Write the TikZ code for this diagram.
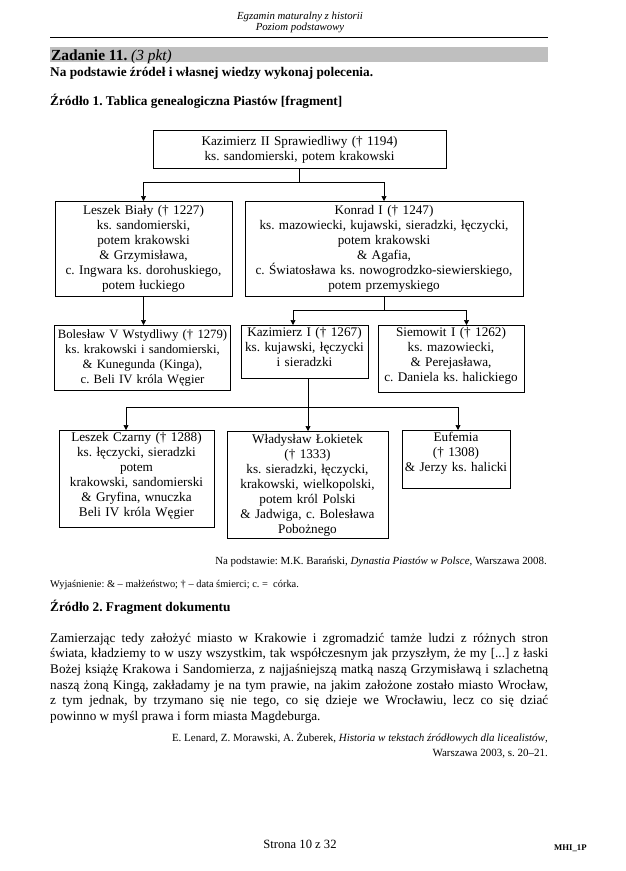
\documentclass[tikz,border=0pt]{standalone}
\usepackage{fontspec}
\setmainfont{Liberation Serif}
\usetikzlibrary{positioning,calc,arrows.meta}
\definecolor{bargray}{gray}{0.75}
\newcommand{\boxpad}[1]{\rule[-#1]{0pt}{#1}}

\tikzset{
  gen/.style={draw, line width=0.7pt, align=center, anchor=north, inner xsep=1pt, inner ysep=2pt,
    font=\fontsize{13.2}{15}\selectfont, execute at begin node={\hyphenpenalty=10000\relax}},
  arr/.style={line width=0.7pt, -{Triangle[length=5pt,width=5pt]}},
  link/.style={line width=0.7pt},
  txt/.style={inner sep=0pt},
}

\begin{document}
\frenchspacing
\begin{tikzpicture}[x=1pt,y=-1pt]
\useasboundingbox (0,0) rectangle (625,871);
\fill[white] (0,0) rectangle (625,871);

% page head
\node[txt, anchor=base, font=\fontsize{10.8}{12}\selectfont\itshape] (head1) at (300,19) {Egzamin maturalny z historii};
\node[txt, anchor=base, font=\fontsize{10.8}{12}\selectfont\itshape] (head2) at (300,30) {Poziom podstawowy};
\draw[line width=0.8pt] (50,37) -- (548,37);

% task title
\fill[bargray] (50,47) rectangle (548,62);
\node[txt, anchor=base west, font=\fontsize{15.4}{17}\selectfont] (task) at (51,60) {\textbf{Zadanie 11.} \textit{(3 pkt)}};
\node[txt, anchor=base west, font=\fontsize{13.3}{15}\selectfont\bfseries] (cmd) at (50,76) {Na podstawie źródeł i własnej wiedzy wykonaj polecenia.};
\node[txt, anchor=base west, font=\fontsize{13.3}{15}\selectfont\bfseries] (src1) at (50,105) {Źródło 1. Tablica genealogiczna Piastów [fragment]};

% genealogy boxes
\node[gen, text width=291pt, minimum height=38pt] (top) at (299.5,130)
  {Kazimierz II Sprawiedliwy († 1194)\\ks. sandomierski, potem krakowski};

\node[gen, text width=175pt, minimum height=95pt] (leszekB) at (143.5,201)
  {Leszek Biały († 1227)\\ks. sandomierski,\\potem krakowski\\\& Grzymisława,\\c. Ingwara ks. dorohuskiego,\\potem łuckiego};
\node[gen, text width=276pt, minimum height=95pt] (konrad) at (384,201)
  {Konrad I († 1247)\\ks. mazowiecki, kujawski, sieradzki, łęczycki,\\potem krakowski\\\& Agafia,\\c. Światosława ks. nowogrodzko-siewierskiego,\\potem przemyskiego};

\node[gen, text width=176pt, inner xsep=0pt, minimum height=65pt, font=\fontsize{12.7}{15}\selectfont] (boleslaw) at (142.5,325)
  {Bolesław V Wstydliwy († 1279)\\ks. krakowski i sandomierski,\\\& Kunegunda (Kinga),\\c. Beli IV króla Węgier};
\node[gen, text width=125pt, minimum height=53pt] (kazimierz) at (304.5,325)
  {Kazimierz I († 1267)\\ks. kujawski, łęczycki\\i sieradzki\boxpad{9pt}};
\node[gen, text width=144pt, minimum height=67pt] (siemowit) at (451,325)
  {Siemowit I († 1262)\\ks. mazowiecki,\\\& Perejasława,\\c. Daniela ks. halickiego\boxpad{8pt}};

\node[gen, text width=153pt, minimum height=96pt] (leszekC) at (136.5,430)
  {Leszek Czarny († 1288)\\ks. łęczycki, sieradzki\\potem\\krakowski, sandomierski\\\& Gryfina, wnuczka\\Beli IV króla Węgier\boxpad{9pt}};
\node[gen, text width=159pt, minimum height=107pt] (lokietek) at (307.5,431)
  {Władysław Łokietek\\(† 1333)\\ks. sieradzki, łęczycki,\\krakowski, wielkopolski,\\potem król Polski\\\& Jadwiga, c. Bolesława\\Pobożnego};
\node[gen, text width=106pt, minimum height=58pt] (eufemia) at (456,430)
  {Eufemia\\(† 1308)\\\& Jerzy ks. halicki\boxpad{15pt}};

% connectors
\coordinate (f1) at ($(top.south)+(0,14)$);
\draw[link] (top.south) -- (f1);
\draw[arr] (f1) -| (leszekB.north);
\draw[arr] (f1) -| (konrad.north);

\draw[arr] (leszekB.south) -- (leszekB.south |- boleslaw.north);

\coordinate (f2) at ($(konrad.south)+(0,14)$);
\draw[link] (konrad.south) -- (f2);
\draw[arr] (f2) -| ([xshift=-11.5pt]kazimierz.north);
\draw[arr] (f2) -| ([xshift=15.5pt]siemowit.north);

\coordinate (k0) at ([xshift=3.5pt]kazimierz.south);
\coordinate (f3) at ($(k0)+(0,29)$);
\draw[link] (k0) -- (f3);
\draw[arr] (f3) -| ([xshift=-10.5pt]leszekC.north);
\draw[arr] (f3) -- (f3 |- lokietek.north);
\draw[arr] (f3) -| ([xshift=2pt]eufemia.north);

% notes under the table
\node[txt, anchor=base east, font=\fontsize{10.9}{12}\selectfont] (basis) at (547,564)
  {Na podstawie: M.K. Barański, \textit{Dynastia Piastów w Polsce}, Warszawa 2008.};
\node[txt, anchor=base west, font=\fontsize{10.4}{12}\selectfont] (legend) at (50,587)
  {Wyjaśnienie: \& – małżeństwo; † – data śmierci; c. =\ \ córka.};

% source 2
\node[txt, anchor=base west, font=\fontsize{13.3}{15}\selectfont\bfseries] (src2) at (50,611) {Źródło 2. Fragment dokumentu};
\node[txt, anchor=north west, text width=498pt, align=justify, font=\fontsize{13.2}{15.6}\selectfont] (doc) at (50,633)
  {\spaceskip=0.25em plus 0.4em minus 0.14em\relax
   Zamierzając tedy założyć miasto w Krakowie i zgromadzić tamże ludzi z różnych stron\linebreak
   świata, kładziemy to w uszy wszystkim, tak współczesnym jak przyszłym, że my [...] z łaski\linebreak
   Bożej książę Krakowa i Sandomierza, z najjaśniejszą matką naszą Grzymisławą i szlachetną\linebreak
   naszą żoną Kingą, zakładamy je na tym prawie, na jakim założone zostało miasto Wrocław,\linebreak
   z tym jednak, by trzymano się nie tego, co się dzieje we Wrocławiu, lecz co się dziać\linebreak
   powinno w myśl prawa i form miasta Magdeburga.};
\node[txt, anchor=base east, font=\fontsize{11}{12}\selectfont] (cite1) at (548,741)
  {E. Lenard, Z. Morawski, A. Żuberek, \textit{Historia w tekstach źródłowych dla licealistów},};
\node[txt, anchor=base east, font=\fontsize{11}{12}\selectfont] (cite2) at (548,756)
  {Warszawa 2003, s. 20–21.};

% page foot
\node[txt, anchor=base, font=\fontsize{12.6}{14}\selectfont] (foot) at (300,848) {Strona 10 z 32};
\node[txt, anchor=base west, font=\fontsize{8.7}{10}\selectfont\bfseries] (code) at (554,850) {MHI\_1P};
\end{tikzpicture}
\end{document}
